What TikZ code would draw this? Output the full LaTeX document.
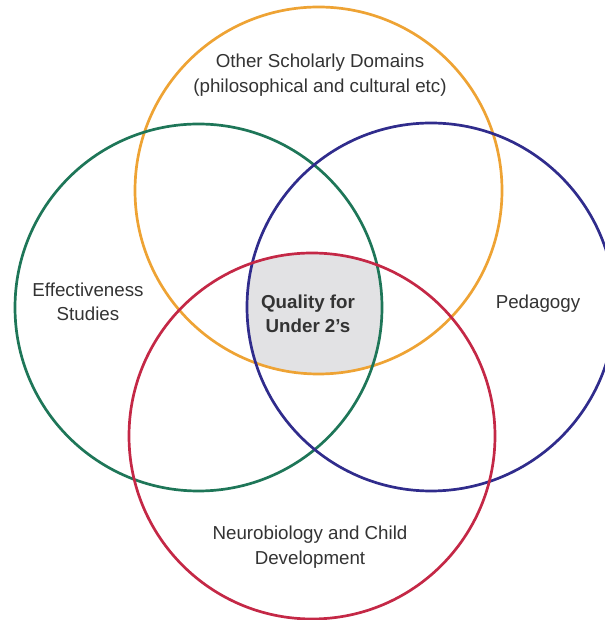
\documentclass[tikz,border=0pt]{standalone}
\usepackage{fontspec}
\setmainfont{Liberation Sans}

\definecolor{otherorange}{RGB}{238,163,52}
\definecolor{effgreen}{RGB}{30,118,88}
\definecolor{pedblue}{RGB}{48,44,140}
\definecolor{neurored}{RGB}{196,40,70}
\definecolor{coregray}{RGB}{226,226,228}

\begin{document}
\begin{tikzpicture}[x=0.03cm,y=0.03cm,
  ring/.style={line width=2.3pt},
  areatext/.style={align=center,text=black!80,font=\fontsize{16}{21}\selectfont}]
\useasboundingbox (0,0) rectangle (604,620);

% centres of the four domains
\coordinate (other) at (318.5,429.5);
\coordinate (eff) at (198.5,312.5);
\coordinate (ped) at (431,313);
\coordinate (neuro) at (312,184);

% the part all four domains share
\begin{scope}
\clip (other) circle (183.5);
\clip (eff) circle (183.5);
\clip (ped) circle (184);
\fill[coregray] (neuro) circle (183);
\end{scope}

\draw[ring,otherorange] (other) circle (183.5);
\draw[ring,effgreen] (eff) circle (183.5);
\draw[ring,pedblue] (ped) circle (184);
\draw[ring,neurored] (neuro) circle (183);

\node[areatext] (otherlbl) at (320,545) {Other Scholarly Domains\\(philosophical and cultural etc)};
\node[areatext] (efflbl) at (88,318) {Effectiveness\\Studies};
\node[areatext] (pedlbl) at (538,316) {Pedagogy};
\node[areatext] (neurolbl) at (310,73) {Neurobiology and Child\\Development};
\node[areatext,font=\fontsize{16}{21}\selectfont\bfseries] (core) at (308,306) {Quality for\\Under 2's};
\end{tikzpicture}
\end{document}
